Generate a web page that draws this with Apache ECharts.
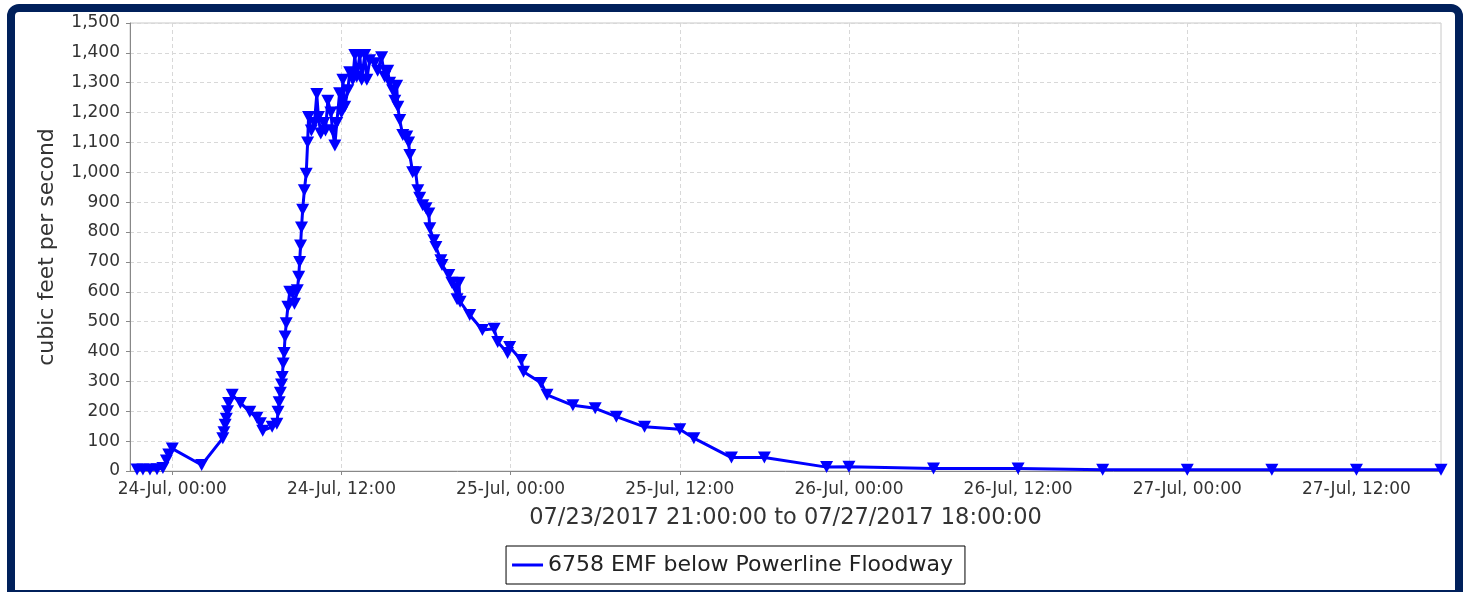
<!DOCTYPE html>
<html>
<head>
<meta charset="utf-8">
<script src="https://cdn.jsdelivr.net/npm/echarts@6/dist/echarts.min.js"></script>
<style>
html,body{margin:0;padding:0;background:#fff;width:1465px;height:592px;overflow:hidden;}
#frame{position:absolute;left:7px;top:4px;width:1456px;height:594px;border:8px solid #00205b;border-radius:12px 12px 0 0;box-sizing:border-box;background:#fff;}
#chart{position:absolute;left:0;top:0;width:1465px;height:592px;}
</style>
</head>
<body>
<div id="frame"></div>
<div id="chart"></div>
<script>
const seriesName = '6758 EMF below Powerline Floodway';
const yAxisTitle = 'cubic feet per second';
const xAxisTitle = '07/23/2017 21:00:00 to 07/27/2017 18:00:00';
const xMin = '2017-07-23 21:00';
const xMax = '2017-07-27 18:00';
const xTicks = ['2017-07-24 00:00','2017-07-24 12:00','2017-07-25 00:00','2017-07-25 12:00','2017-07-26 00:00','2017-07-26 12:00','2017-07-27 00:00','2017-07-27 12:00'];
const monthNames = ['Jan','Feb','Mar','Apr','May','Jun','Jul','Aug','Sep','Oct','Nov','Dec'];

const times = [
'2017-07-23 21:30','2017-07-23 21:55','2017-07-23 22:25','2017-07-23 22:55','2017-07-23 23:20','2017-07-23 23:35','2017-07-23 23:45','2017-07-24 00:00',
'2017-07-24 02:05','2017-07-24 03:35','2017-07-24 03:40','2017-07-24 03:45','2017-07-24 03:50','2017-07-24 03:55','2017-07-24 04:00','2017-07-24 04:15',
'2017-07-24 04:50','2017-07-24 05:30','2017-07-24 06:00','2017-07-24 06:15','2017-07-24 06:25','2017-07-24 07:05','2017-07-24 07:25','2017-07-24 07:30',
'2017-07-24 07:35','2017-07-24 07:40','2017-07-24 07:45','2017-07-24 07:48','2017-07-24 07:52','2017-07-24 07:56','2017-07-24 08:00','2017-07-24 08:05',
'2017-07-24 08:12','2017-07-24 08:20','2017-07-24 08:32','2017-07-24 08:40','2017-07-24 08:52','2017-07-24 08:58','2017-07-24 09:02','2017-07-24 09:06',
'2017-07-24 09:10','2017-07-24 09:15','2017-07-24 09:22','2017-07-24 09:30','2017-07-24 09:36','2017-07-24 09:40','2017-07-24 09:52','2017-07-24 10:05',
'2017-07-24 10:15','2017-07-24 10:22','2017-07-24 10:32','2017-07-24 10:45','2017-07-24 10:52','2017-07-24 11:02','2017-07-24 11:15','2017-07-24 11:22',
'2017-07-24 11:32','2017-07-24 11:40','2017-07-24 11:52','2017-07-24 12:00','2017-07-24 12:06','2017-07-24 12:14','2017-07-24 12:27','2017-07-24 12:35',
'2017-07-24 12:48','2017-07-24 12:57','2017-07-24 13:05','2017-07-24 13:18','2017-07-24 13:26','2017-07-24 13:39','2017-07-24 13:48','2017-07-24 14:00',
'2017-07-24 14:21','2017-07-24 14:34','2017-07-24 14:51','2017-07-24 15:04','2017-07-24 15:17','2017-07-24 15:25','2017-07-24 15:38','2017-07-24 15:47',
'2017-07-24 15:55','2017-07-24 16:00','2017-07-24 16:08','2017-07-24 16:21','2017-07-24 16:38','2017-07-24 16:46','2017-07-24 16:51','2017-07-24 17:03',
'2017-07-24 17:16','2017-07-24 17:25','2017-07-24 17:33','2017-07-24 17:46','2017-07-24 18:00','2017-07-24 18:12','2017-07-24 18:16','2017-07-24 18:33',
'2017-07-24 18:42','2017-07-24 19:03','2017-07-24 19:08','2017-07-24 19:37','2017-07-24 19:50','2017-07-24 20:05','2017-07-24 20:12','2017-07-24 20:20',
'2017-07-24 20:25','2017-07-24 21:06','2017-07-24 22:00','2017-07-24 22:50','2017-07-24 23:05','2017-07-24 23:47','2017-07-24 23:56','2017-07-25 00:45',
'2017-07-25 00:55','2017-07-25 02:10','2017-07-25 02:35','2017-07-25 04:25','2017-07-25 06:00','2017-07-25 07:30','2017-07-25 09:30','2017-07-25 12:00',
'2017-07-25 13:00','2017-07-25 15:40','2017-07-25 18:00','2017-07-25 22:25','2017-07-26 00:00','2017-07-26 06:00','2017-07-26 12:00','2017-07-26 18:00',
'2017-07-27 00:00','2017-07-27 06:00','2017-07-27 12:00','2017-07-27 18:00'
];
const flows = [
5,5,5,6,10,35,55,75,
20,110,130,155,175,200,228,255,
228,198,178,160,135,148,158,198,
230,262,290,315,360,395,450,495,
550,600,595,560,605,650,700,755,
815,875,940,995,1100,1185,1140,1165,
1262,1185,1130,1165,1140,1240,1200,1140,
1090,1165,1265,1200,1310,1220,1275,1335,
1310,1393,1320,1393,1310,1393,1310,1375,
1365,1340,1385,1320,1340,1300,1275,1240,
1290,1220,1175,1125,1120,1100,1058,1000,
1000,940,915,890,880,862,813,773,
750,706,690,656,630,612,575,630,
567,522,472,476,432,395,415,372,
332,295,255,220,210,182,148,140,
110,45,45,13,14,8,8,4,
4,4,4,4
];

function toTs(s){
  const m = s.match(/(\d+)-(\d+)-(\d+) (\d+):(\d+)/);
  return new Date(+m[1], +m[2]-1, +m[3], +m[4], +m[5]).getTime();
}
function pad(n){return (n<10?'0':'')+n;}
function fmt(v){const d=new Date(v);return d.getDate()+'-'+monthNames[d.getMonth()]+', '+pad(d.getHours())+':'+pad(d.getMinutes());}

const seriesData = times.map((t,i)=>[toTs(t), flows[i]]);
const tickVals = xTicks.map(toTs);

const FONT = 'DejaVu Sans';
const chart = echarts.init(document.getElementById('chart'), null, {renderer:'canvas'});
chart.setOption({
  animation:false,
  backgroundColor:'transparent',
  textStyle:{fontFamily:FONT},
  grid:{left:130, right:24, top:23, bottom:121, show:true, borderColor:'#c8c8c8', borderWidth:1, containLabel:false},
  legend:{
    data:[{name:seriesName, icon:'rect'}],
    left:'center', top:546,
    itemWidth:31, itemHeight:3, itemGap:4,
    padding:[8,12,8,6],
    borderColor:'#000', borderWidth:1, borderRadius:0,
    textStyle:{fontFamily:FONT, fontSize:22, color:'#222'}
  },
  xAxis:{
    type:'value', min:toTs(xMin), max:toTs(xMax), scale:true,
    name:xAxisTitle, nameLocation:'middle', nameGap:36,
    nameTextStyle:{fontFamily:FONT, fontSize:22.5, color:'#333', verticalAlign:'top'},
    axisLine:{show:true, onZero:false, lineStyle:{color:'#888', width:1}},
    axisTick:{show:true, length:4, inside:false, customValues:tickVals, lineStyle:{color:'#888'}},
    axisLabel:{customValues:tickVals, formatter:fmt, fontFamily:FONT, fontSize:17, color:'#333', margin:10},
    splitLine:{show:true, lineStyle:{color:'#d8d8d8', type:[4,3], width:1}}
  },
  yAxis:{
    type:'value', min:0, max:1500, interval:100,
    name:yAxisTitle, nameLocation:'middle', nameGap:72, nameRotate:90,
    nameTextStyle:{fontFamily:FONT, fontSize:22, color:'#333'},
    axisLine:{show:true, lineStyle:{color:'#888', width:1}},
    axisTick:{show:true, length:4, lineStyle:{color:'#888'}},
    axisLabel:{fontFamily:FONT, fontSize:17, color:'#333', margin:10,
      formatter:v=>v.toLocaleString('en-US')},
    splitLine:{show:true, lineStyle:{color:'#d8d8d8', type:[4,3], width:1}}
  },
  series:[{
    name:seriesName, type:'line', data:seriesData,
    showAllSymbol:true, symbol:'triangle', symbolRotate:180, symbolSize:[13,12],
    lineStyle:{color:'#0000ff', width:3},
    itemStyle:{color:'#0000ff', borderWidth:0},
    clip:true
  }]
});
</script>
</body>
</html>
